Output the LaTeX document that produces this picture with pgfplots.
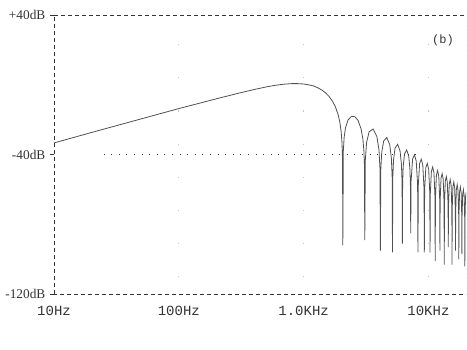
\documentclass[border=0pt]{standalone}
\usepackage{fontspec}
\setmainfont{Liberation Serif}
\newfontfamily\mono{Liberation Mono}
\usepackage{pgfplots}
\pgfplotsset{compat=1.18}
\definecolor{ink}{HTML}{333333}
\definecolor{trace}{HTML}{505050}
\begin{document}
\begin{tikzpicture}
\begin{axis}[
  name=ax,
  scale only axis,
  width=309pt, height=209.25pt,
  xmode=log, xmin=10, xmax=20000,
  ymin=-120, ymax=40,
  axis line style={draw=none},
  xtick={10,100,1000,10000},
  xticklabels={10Hz,100Hz,1.0KHz,10KHz},
  ytick={40,-40,-120},
  yticklabels={+40dB,-40dB,-120dB},
  minor xtick={}, 
  xtick style={draw=none},
  ytick pos=left,
  tick align=outside,
  major tick length=3pt,
  ytick style={ink, line width=0.5pt},
  xticklabel style={font=\mono\fontsize{10.5}{11}\selectfont, text=ink, yshift=-2.5pt},
  yticklabel style={font=\fontsize{10}{11}\selectfont, text=ink, xshift=0pt},
  clip=true,
]
\addplot[trace, line width=0.6pt] coordinates {
(10,-33.2) (20,-27.2) (50,-19.4) (100,-13.5) (200,-7.9) (300,-4.7) (400,-2.6)
(500,-1.1) (600,-0.1) (700,0.5) (800,0.8) (900,0.8) (1000,0.6) (1100,0.1)
(1200,-0.5) (1300,-1.6) (1400,-2.9) (1500,-4.5) (1600,-6.6) (1700,-9.2)
(1800,-12.6) (1900,-17.6) (1950,-21.3) (2000,-27.1) (2030,-33.4) (2050,-43.2)
(2060,-92)
(2080.6,-37.6) (2111.5,-30.0) (2163,-24.6) (2266,-20.1) (2420.5,-17.9) (2575,-18.2)
(2729.5,-20.3) (2884,-25.1) (2987,-31.3) (3038.5,-37.6) (3069.4,-45.7) (3090,-89)
(3120.9,-42.9) (3193,-33.0) (3347.5,-26.8) (3605,-25.2) (3862.5,-29.5) (4017,-37.4) (4089.1,-48.1) (4120,-95)
(4150.9,-48.6) (4223,-38.6) (4377.5,-32.1) (4635,-30.1) (4892.5,-34.1) (5047,-41.9) (5119.1,-52.5) (5150,-96)
(5180.9,-52.9) (5253,-42.8) (5407.5,-36.1) (5665,-34.0) (5922.5,-37.8) (6077,-45.4) (6149.1,-56.0) (6180,-91)
(6210.9,-56.3) (6283,-46.2) (6437.5,-39.5) (6695,-37.2) (6952.5,-40.8) (7107,-48.4) (7179.1,-58.9) (7210,-85)
(7261.5,-55.0) (7467.5,-42.4) (7725,-40.0) (7982.5,-43.6) (8188.5,-57.1) (8240,-96)
(8291.5,-57.7) (8497.5,-45.0) (8755,-42.5) (9012.5,-46.0) (9218.5,-59.5) (9270,-96)
(9321.5,-60.1) (9527.5,-47.4) (9785,-44.9) (10042.5,-48.3) (10248.5,-61.8) (10300,-96)
(10351.5,-62.4) (10557.5,-49.6) (10815,-47.0) (11072.5,-50.4) (11278.5,-63.9) (11330,-101)
(11381.5,-64.4) (11587.5,-51.6) (11845,-49.0) (12102.5,-52.4) (12308.5,-65.8) (12360,-95)
(12411.5,-66.2) (12617.5,-53.4) (12875,-50.8) (13132.5,-54.1) (13338.5,-67.5) (13390,-103)
(13441.5,-68.0) (13647.5,-55.2) (13905,-52.5) (14162.5,-55.8) (14368.5,-69.2) (14420,-93)
(14471.5,-69.7) (14677.5,-56.9) (14935,-54.2) (15192.5,-57.5) (15398.5,-70.8) (15450,-103)
(15501.5,-71.2) (15707.5,-58.4) (15965,-55.6) (16222.5,-58.9) (16428.5,-72.2) (16480,-95)
(16531.5,-72.7) (16737.5,-59.9) (16995,-57.1) (17252.5,-60.4) (17458.5,-73.7) (17510,-100)
(17561.5,-74.2) (17767.5,-61.3) (18025,-58.5) (18282.5,-61.8) (18488.5,-75.1) (18540,-97)
(18591.5,-75.7) (18797.5,-62.8) (19055,-60.0) (19312.5,-63.3) (19518.5,-76.5) (19570,-104)
(19621.5,-77.1) (19827.5,-64.2) (20085,-61.4)
};
% frame
\draw[ink, line width=0.5pt, dash pattern=on 3pt off 2.25pt] (rel axis cs:0,1) -- (rel axis cs:1,1);
\draw[ink, line width=0.5pt, dash pattern=on 3pt off 2.25pt] (rel axis cs:0,0) -- (rel axis cs:0,1);
\draw[ink, line width=0.5pt, dash pattern=on 3pt off 2.25pt] (rel axis cs:-0.02,0) -- (rel axis cs:1,0);
\draw[gray!60, line width=0.4pt, dash pattern=on 0.8pt off 3pt] (rel axis cs:1,0) -- (rel axis cs:1,1);
% sparse dotted grid
\draw[ink, line width=0.5pt, dash pattern=on 0.7pt off 5pt] (axis cs:25,-40) -- (axis cs:8000,-40);
\draw[gray!45, line width=0.5pt, dash pattern=on 0.8pt off 24pt] (axis cs:100,-110) -- (axis cs:100,30);
\draw[gray!45, line width=0.5pt, dash pattern=on 0.8pt off 24pt] (axis cs:1000,-110) -- (axis cs:1000,30);
\draw[gray!45, line width=0.5pt, dash pattern=on 0.8pt off 24pt] (axis cs:10000,-110) -- (axis cs:10000,30);
\node[font=\mono\fontsize{9}{10}\selectfont, text=ink] at (rel axis cs:0.944,0.910) {(b)};
\node[font=\mono\fontsize{11.5}{12}\selectfont, text=ink] at (rel axis cs:0.498,-0.172) {Frequency};
\coordinate (bl) at (rel axis cs:-0.1311,-0.1971);
\coordinate (tr) at (rel axis cs:1.0024,1.0548);
\end{axis}
\pgfresetboundingbox
\path (bl) rectangle (tr);
\end{tikzpicture}
\end{document}
